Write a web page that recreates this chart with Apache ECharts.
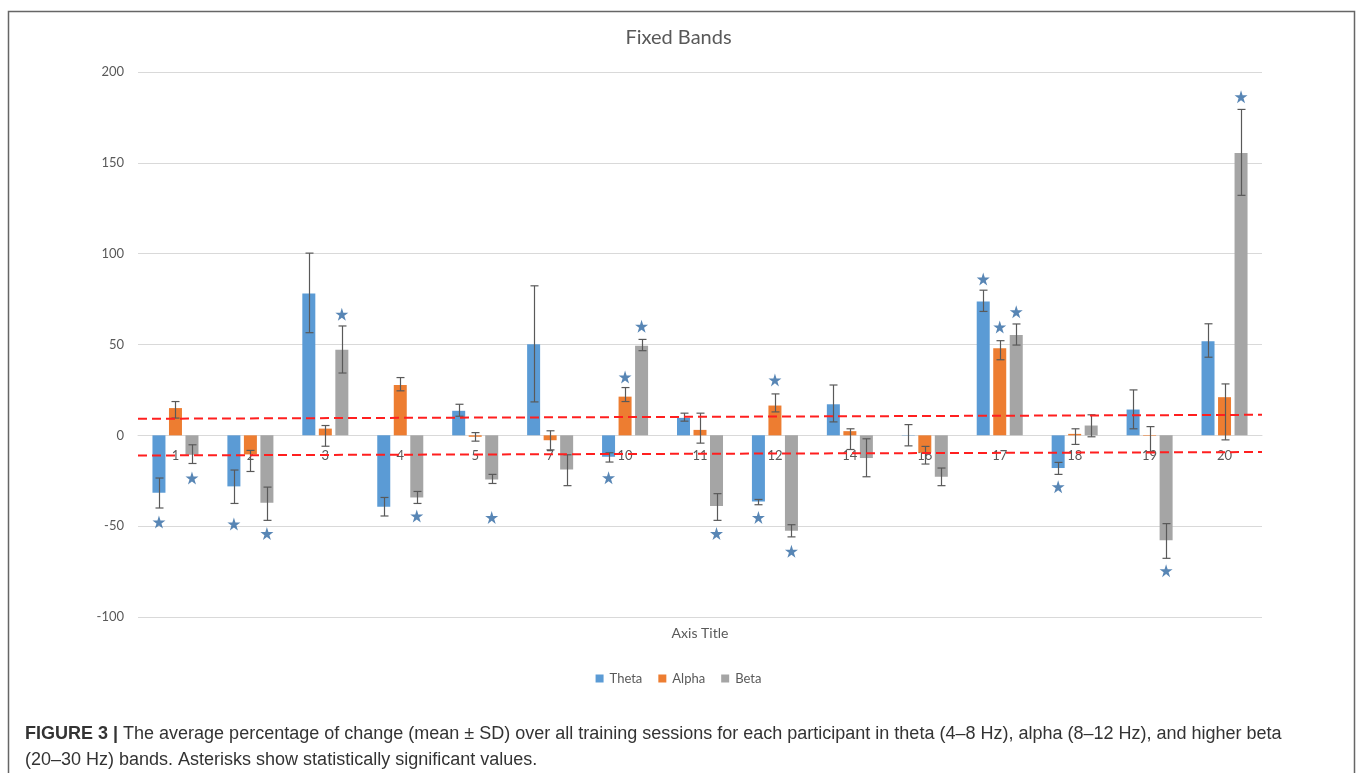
<!DOCTYPE html>
<html>
<head>
<meta charset="utf-8">
<script src="https://cdn.jsdelivr.net/npm/echarts@6/dist/echarts.min.js"></script>
<style>
html,body{margin:0;padding:0;background:#fff;}
#chart{width:1357px;height:773px;}
</style>
</head>
<body>
<div id="chart"></div>
<script>
// ---- data ----
const categories = ['1','2','3','4','5','7','10','11','12','14','16','17','18','19','20'];
const yTicks = { min: -100, max: 200, interval: 50 };

const theta = [-31.6, -28.1, 78.1, -39.3, 13.5, 50.1, -11.8, 9.6, -36.4, 17.1, 0.2, 73.7, -18, 14.2, 51.8];
const alpha = [15, -10.5, 3.7, 27.7, -0.8, -2.7, 21.3, 3.0, 16.4, 2.3, -9.5, 47.9, 0.8, -0.3, 21];
const beta  = [-10.7, -37.1, 47.1, -34.2, -24.3, -18.8, 49.3, -38.9, -52.5, -12.5, -22.8, 55.2, 5.4, -57.8, 155.4];

// error bar ends [low, high]
const thetaErr = [[-40,-23.5],[-37.5,-19.1],[56.5,100.3],[-44.4,-34.2],[10.5,17.1],[18.4,82.3],[-14.7,-9.6],[7.8,12.2],[-38.2,-35.3],[7.4,27.7],[-5.8,5.9],[68.2,79.9],[-21.5,-14.9],[3.6,25],[43,61.4]];
const alphaErr = [[9.5,18.6],[-19.9,-8.3],[-6,5.4],[24.5,31.8],[-3.2,1.5],[-8,2.5],[18.6,26.3],[-4.3,12.2],[12.9,22.8],[-7.8,3.6],[-15.8,-6.1],[41.6,52.1],[-5,3.6],[-9,4.8],[-2.5,28.3]];
const betaErr  = [[-15.5,-5.2],[-46.8,-28.5],[34.3,60.2],[-37.5,-30.9],[-26.5,-21.5],[-27.7,-10.7],[46.6,52.8],[-46.8,-32.1],[-55.9,-49.2],[-22.8,-1.9],[-27.7,-18],[49.7,61.3],[-0.8,11.3],[-67.7,-48.6],[132.1,179.4]];

// significance stars (value where the star sits, '-' = none)
const thetaStars = [-47.7, -48.8, '-', '-', '-', '-', -23.4, '-', -45.2, '-', '-', 86, -28.3, '-', '-'];
const alphaStars = ['-', '-', '-', '-', '-', '-', 32.1, '-', 30.5, '-', '-', 59.6, '-', '-', '-'];
const betaStars  = [-23.5, -54.1, 66.6, -44.4, -45.2, '-', 60, -54.1, -63.8, '-', '-', 68, '-', -74.5, 186.4];

// red dashed reference lines (left end, right end)
const upperRef = [9.1, 11.3];
const lowerRef = [-11.1, -9.2];

const seriesNames = ['Theta', 'Alpha', 'Beta'];
const caption1 = 'The average percentage of change (mean \u00b1 SD) over all training sessions for each participant in theta (4\u20138 Hz), alpha (8\u201312 Hz), and higher beta';
const caption2 = '(20\u201330 Hz) bands. Asterisks show statistically significant values.';

// ---- chart ----
const colors = ['#5b9bd5', '#ed7d31', '#a5a5a5'];
const FONT = 'Lato, "Noto Sans", sans-serif';
const CAP_FONT = '"Liberation Sans", Arial, sans-serif';
const BAR_W = 13, OFFSET = 16.5;
const STAR = 'path://M50,0 L61.2,34.5 L97.6,34.5 L68.2,55.9 L79.4,90.5 L50,69.1 L20.6,90.5 L31.8,55.9 L2.4,34.5 L38.8,34.5 Z';

function errRender(offset) {
  return function (params, api) {
    const x = api.value(0);
    const lo = api.coord([x, api.value(1)]);
    const hi = api.coord([x, api.value(2)]);
    const cx = Math.round(lo[0] + offset) + 0.5;
    const hw = 4;
    const st = { stroke: '#595959', lineWidth: 1.2, fill: null };
    return { type: 'group', children: [
      { type: 'line', shape: { x1: cx, y1: lo[1], x2: cx, y2: hi[1] }, style: st },
      { type: 'line', shape: { x1: cx - hw, y1: lo[1], x2: cx + hw, y2: lo[1] }, style: st },
      { type: 'line', shape: { x1: cx - hw, y1: hi[1], x2: cx + hw, y2: hi[1] }, style: st }
    ]};
  };
}

// category labels drawn next to the zero line (Excel style)
function labelRender(params, api) {
  const p = api.coord([api.value(0), 0]);
  return { type: 'text', x: p[0], y: p[1] + 20,
    style: { text: categories[params.dataIndex], fill: '#595959', fontSize: 13, fontFamily: FONT,
             align: 'center', verticalAlign: 'middle' } };
}

const chart = echarts.init(document.getElementById('chart'), null, { renderer: 'canvas' });

const barSeries = [theta, alpha, beta].map((d, i) => ({
  name: seriesNames[i], type: 'bar', data: d, barWidth: BAR_W, barGap: '27%',
  itemStyle: { color: colors[i] }, z: 2
}));
const errSeries = [thetaErr, alphaErr, betaErr].map((e, i) => ({
  type: 'custom', name: seriesNames[i] + ' SD',
  renderItem: errRender((i - 1) * OFFSET),
  data: e.map((p, k) => [k, p[0], p[1]]),
  encode: { x: 0, y: [1, 2] }, z: 4, silent: true
}));
const starSeries = [thetaStars, alphaStars, betaStars].map((s, i) => ({
  type: 'scatter', name: seriesNames[i] + ' sig', data: s,
  symbol: STAR, symbolSize: 13, symbolOffset: [(i - 1) * OFFSET, 0],
  itemStyle: { color: '#2e68a3' }, z: 5, silent: true
}));
const refSeries = [upperRef, lowerRef].map((r, i) => ({
  type: 'line', name: i ? 'lower' : 'upper', xAxisIndex: 1,
  data: [[0, r[0]], [1, r[1]]], symbol: 'none', z: 6, silent: true,
  lineStyle: { color: '#ff1f1f', width: 2, type: [9, 5] }
}));
const labelSeries = {
  type: 'custom', name: 'labels', renderItem: labelRender,
  data: categories.map((c, i) => [i, 0]), encode: { x: 0, y: 1 }, z: 1, silent: true
};

chart.setOption({
  animation: false,
  textStyle: { fontFamily: FONT },
  title: {
    text: 'Fixed Bands', left: 'center', top: 23,
    textStyle: { fontFamily: FONT, fontSize: 20, fontWeight: 'normal', color: '#595959' }
  },
  legend: {
    data: seriesNames, left: 'center', top: 667, icon: 'rect',
    itemWidth: 8, itemHeight: 8, itemGap: 16,
    textStyle: { fontFamily: FONT, fontSize: 13, color: '#595959', padding: [0, 0, 0, 1] }
  },
  grid: { left: 138, right: 95, top: 72, bottom: 156, containLabel: false },
  xAxis: [
    {
      type: 'category', data: categories,
      axisLine: { onZero: true, lineStyle: { color: '#d9d9d9', width: 1 } },
      axisTick: { show: false },
      axisLabel: { show: false },
      splitLine: { show: false }
    },
    { type: 'value', min: 0, max: 1, show: false }
  ],
  yAxis: {
    type: 'value', min: yTicks.min, max: yTicks.max, interval: yTicks.interval,
    axisLine: { show: false }, axisTick: { show: false },
    axisLabel: { color: '#595959', fontSize: 13, margin: 14, fontFamily: FONT },
    splitLine: { lineStyle: { color: '#d9d9d9', width: 1 } }
  },
  graphic: [
    { type: 'rect', shape: { x: 8.5, y: 11.5, width: 1346, height: 800 },
      style: { fill: null, stroke: '#666', lineWidth: 1.5 }, silent: true },
    { type: 'text', x: 700, y: 633,
      style: { text: 'Axis Title', fontFamily: FONT, fontSize: 14, fill: '#595959', align: 'center', verticalAlign: 'middle' } },
    { type: 'text', x: 25, y: 734,
      style: { rich: { b: { fontWeight: 'bold', fontFamily: CAP_FONT, fontSize: 18, fill: '#333' },
                       n: { fontFamily: CAP_FONT, fontSize: 18, fill: '#333' } },
               text: '{b|FIGURE 3 |}{n| ' + caption1 + '}', verticalAlign: 'middle' } },
    { type: 'text', x: 25, y: 760,
      style: { text: caption2, fontFamily: CAP_FONT, fontSize: 18, fill: '#333', verticalAlign: 'middle' } }
  ],
  series: [].concat([labelSeries], barSeries, errSeries, starSeries, refSeries)
});
</script>
</body>
</html>
